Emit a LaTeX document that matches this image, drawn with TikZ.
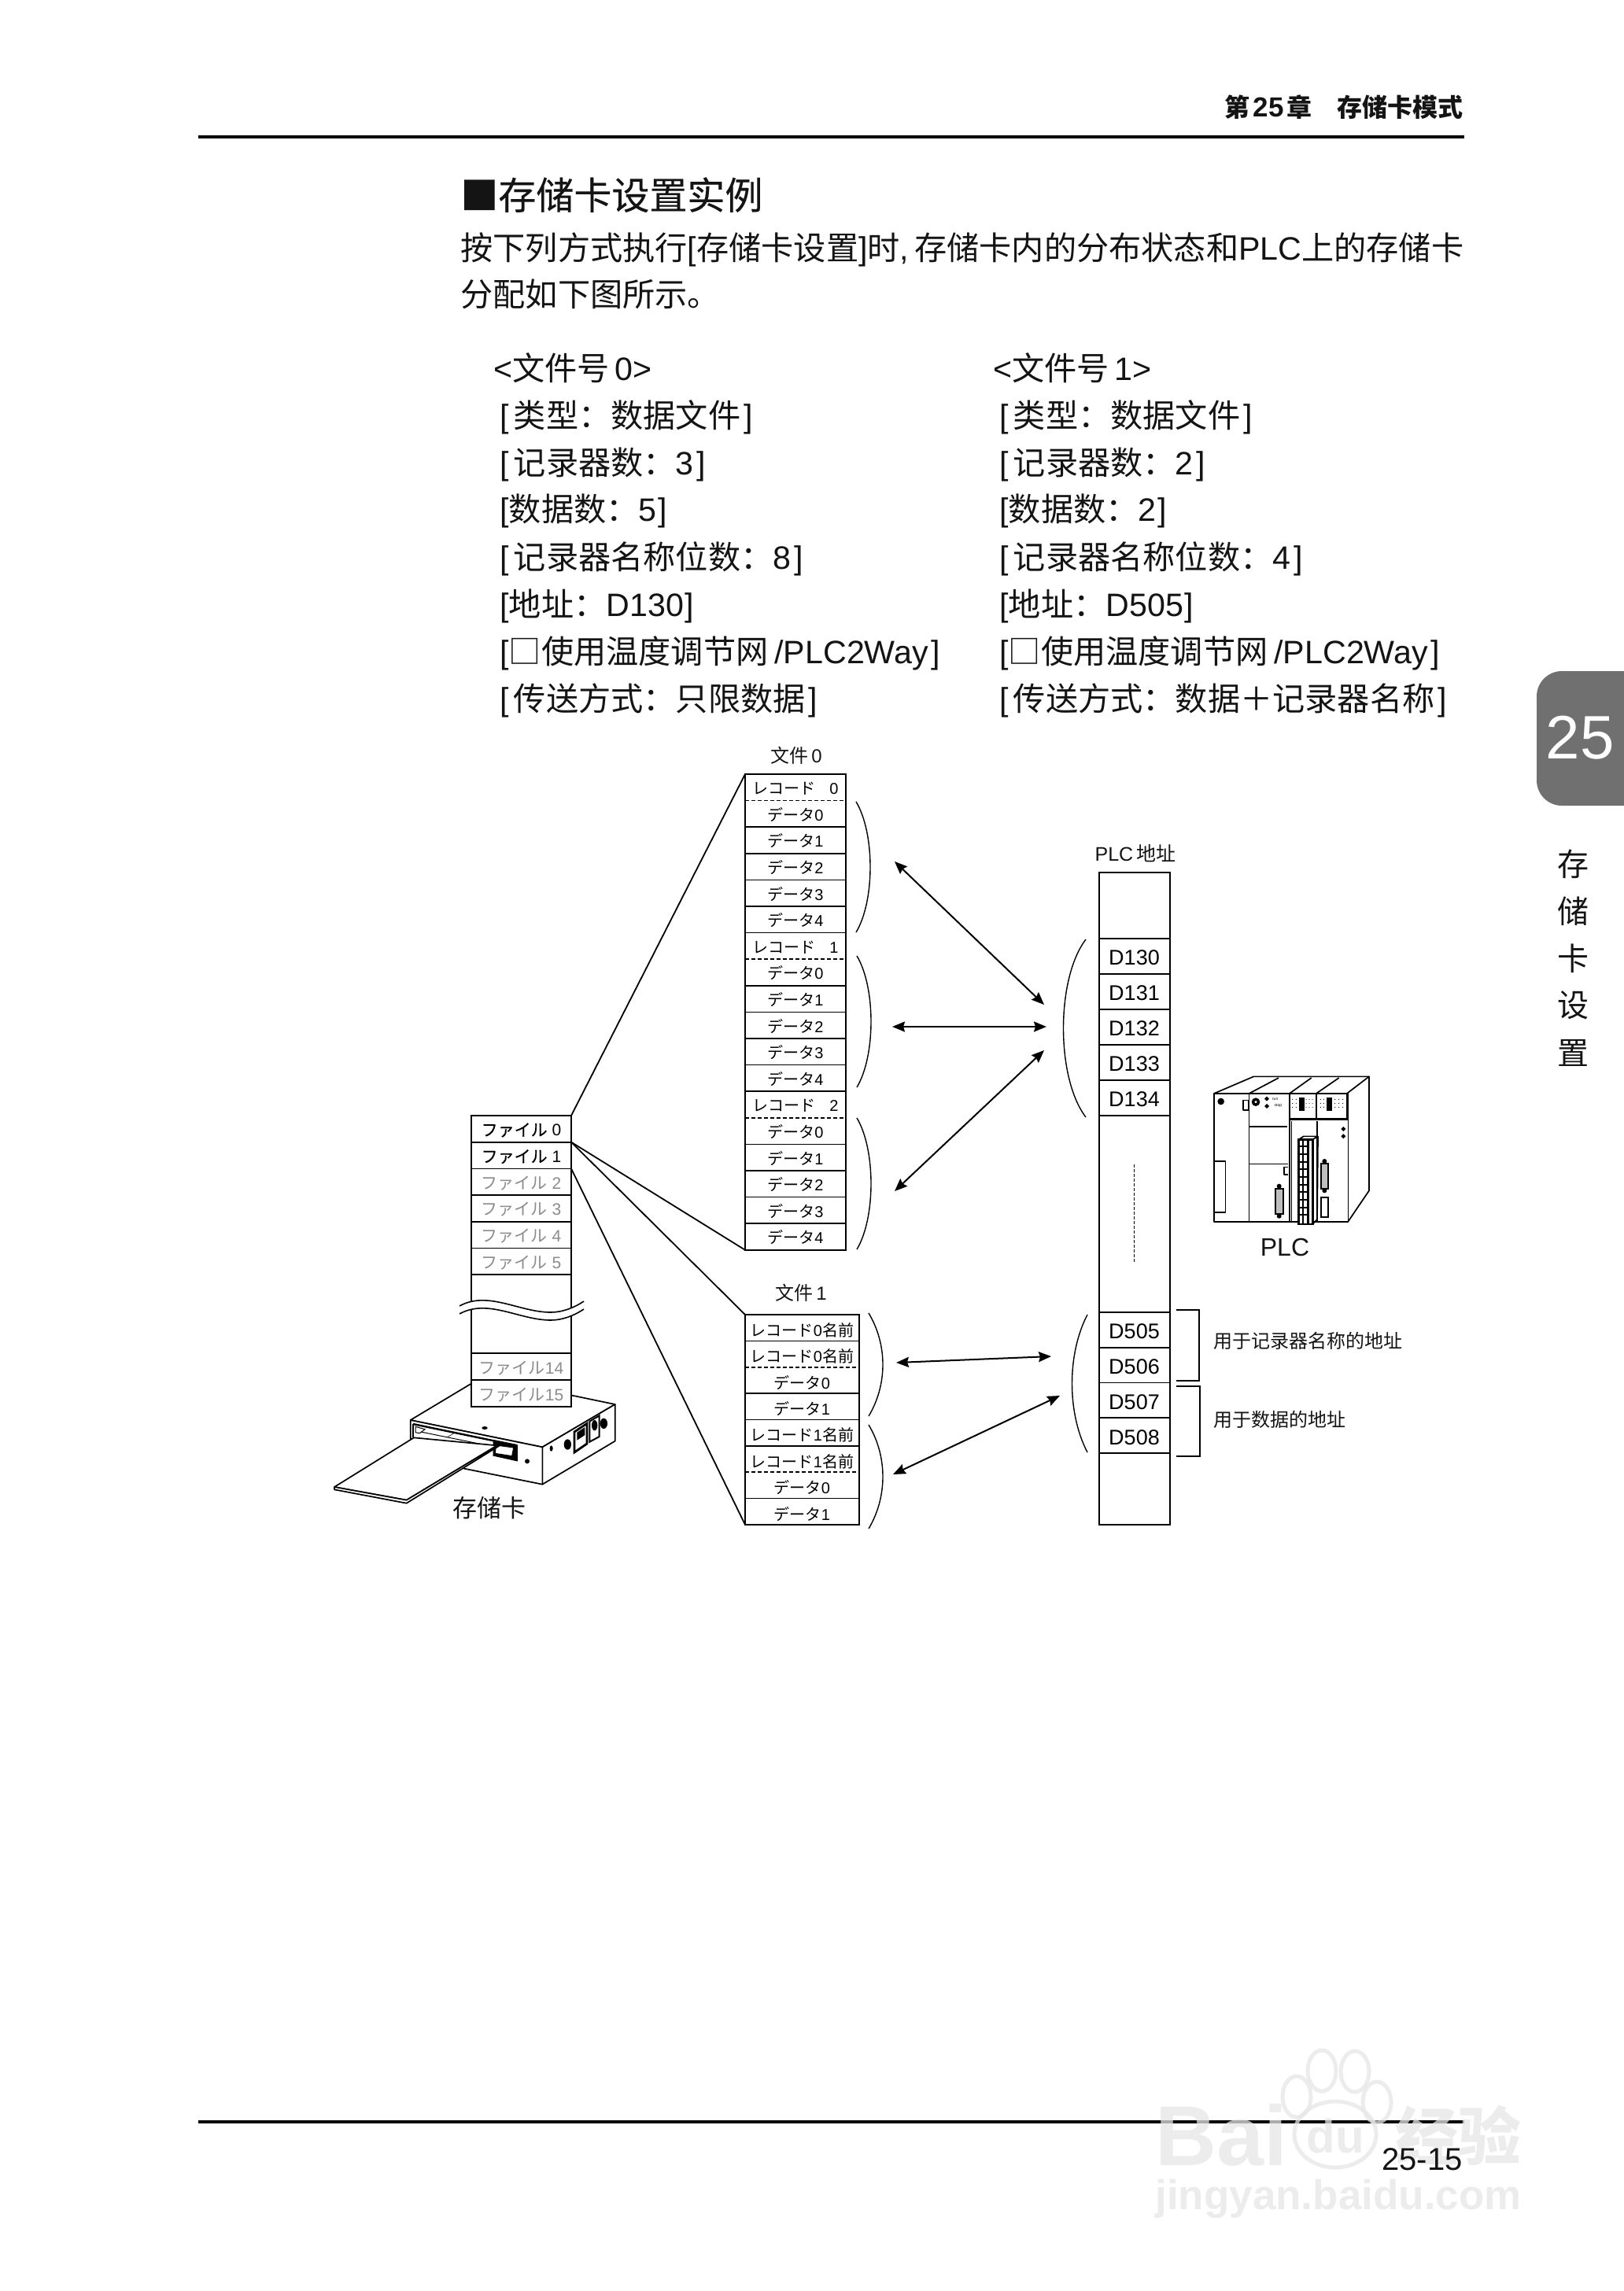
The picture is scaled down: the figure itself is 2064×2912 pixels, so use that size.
\documentclass[tikz,border=0pt]{standalone}
\usepackage{fontspec}
\setmainfont{Liberation Sans}
\newfontfamily\cjk{Noto Sans CJK SC}
\newfontfamily\cjkmid[FakeBold=0.3]{Noto Sans CJK SC}
\usetikzlibrary{arrows.meta,positioning,shapes.geometric}
\definecolor{pageink}{RGB}{20,20,20}
\definecolor{filegray}{RGB}{140,140,140}
\definecolor{tabgray}{RGB}{112,112,112}
\definecolor{markgray}{RGB}{230,230,230}
\newcommand{\cj}[1]{{\cjk #1}}
\newcommand{\fs}[1]{\fontsize{#1pt}{#1pt}\selectfont}
\tikzstyle{bodytext} = [font=\fs{20.6}, anchor=base west, inner sep=0pt, text=pageink]
\tikzstyle{smalltext} = [font=\fs{12}, inner sep=0pt, text=pageink]
\tikzstyle{blockbox} = [draw, line width=1.3pt, fill=white, anchor=north west, inner sep=0pt, outer sep=0pt]
\tikzstyle{rowbox} = [font=\fs{10}, minimum height=16.8pt, minimum width=64pt, inner sep=0pt, outer sep=0pt, text height=9.8pt, text depth=1pt]
\tikzstyle{namebox} = [font=\fs{10}, minimum height=16.7pt, minimum width=72.5pt, inner sep=0pt, outer sep=0pt, text height=11.7pt, text depth=1pt]
\tikzstyle{filerow} = [font=\fs{10.5}, minimum height=16.85pt, minimum width=63.5pt, inner sep=0pt, outer sep=0pt, text height=10pt, text depth=1pt]
\tikzstyle{plcrow} = [font=\fs{13.5}, minimum height=22.5pt, minimum width=44pt, inner sep=0pt, outer sep=0pt, text height=11.4pt, text depth=0pt]
\tikzstyle{rowline} = [line width=0.8pt]
\tikzstyle{dashline} = [line width=0.8pt, dash pattern=on 2.5pt off 1.5pt]
\tikzstyle{arcline} = [line width=0.7pt]
\tikzstyle{fanline} = [line width=0.9pt]
\tikzstyle{dblarrow} = [line width=1pt, {Stealth[length=8pt,width=6.5pt,inset=1pt]}-{Stealth[length=8pt,width=6.5pt,inset=1pt]}]
\tikzstyle{artline} = [line width=0.85pt, line join=round]
\begin{document}
\begin{tikzpicture}[x=0.5pt, y=-0.5pt]
    \useasboundingbox (0,0) rectangle (2064,2912);

    % Page head
    \node[anchor=east, inner sep=0pt, font=\fs{16}\bfseries, text=pageink] (headtext) at (1860,136) {\cj{\bfseries 第}\hspace{2pt}\fs{17.5}25\hspace{2pt}\fs{16}\cj{\bfseries 章}\hspace{16pt}\cj{\bfseries 存储卡模式}};
    \draw[line width=2pt] (252,174) -- (1861,174);
    \draw[line width=2pt] (252,2697) -- (1861,2697);

    % Side tab
    \fill[tabgray, rounded corners=16pt] (1953,853) rectangle (2100,1024);
    \node[text=white, font=\fs{39}, inner sep=0pt] (tabnum) at (2008,938) {25};
    \foreach \c/\y [count=\i] in {存/1098,储/1158,卡/1218,设/1278,置/1338}
        \node[font=\fs{20}\cjk, inner sep=0pt, text=pageink] (side\i) at (1999,\y) {\c};

    % Heading and intro
    \node[anchor=base west, inner sep=0pt, font=\fs{24}\cjkmid, text=pageink] (headline) at (585,266) {■存储卡设置实例};
    \node[bodytext] (introa) at (585,330) {\cj{按下列方式执行}[\cj{存储卡设置}]\cj{时},\,\cj{存储卡内的分布状态和}PLC\cj{上的存储卡}};
    \node[bodytext] (introb) at (585,389) {\cj{分配如下图所示。}};

    % Settings, file 0
    \node[bodytext] (sa0) at (627,483) {<\cj{文件号}\,0>};
    \node[bodytext] (sa1) at (635,543) {[\hspace{3pt}\cj{类型：数据文件}\hspace{2pt}]};
    \node[bodytext] (sa2) at (635,603) {[\hspace{3pt}\cj{记录器数：}3\hspace{2pt}]};
    \node[bodytext] (sa3) at (635,662) {[\cj{数据数：}5\hspace{1pt}]};
    \node[bodytext] (sa4) at (635,723) {[\hspace{3pt}\cj{记录器名称位数：}8\hspace{2pt}]};
    \node[bodytext] (sa5) at (635,783) {[\cj{地址：}D130\hspace{1pt}]};
    \node[bodytext] (sa6) at (635,843) {[\cj{□使用温度调节网}\hspace{4pt}/PLC2Way\hspace{2pt}]};
    \node[bodytext] (sa7) at (635,903) {[\hspace{3pt}\cj{传送方式：只限数据}\hspace{2pt}]};
    % Settings, file 1
    \node[bodytext] (sb0) at (1262,483) {<\cj{文件号}\,1>};
    \node[bodytext] (sb1) at (1270,543) {[\hspace{3pt}\cj{类型：数据文件}\hspace{2pt}]};
    \node[bodytext] (sb2) at (1270,603) {[\hspace{3pt}\cj{记录器数：}2\hspace{2pt}]};
    \node[bodytext] (sb3) at (1270,662) {[\cj{数据数：}2\hspace{1pt}]};
    \node[bodytext] (sb4) at (1270,723) {[\hspace{3pt}\cj{记录器名称位数：}4\hspace{2pt}]};
    \node[bodytext] (sb5) at (1270,783) {[\cj{地址：}D505\hspace{1pt}]};
    \node[bodytext] (sb6) at (1270,843) {[\cj{□使用温度调节网}\hspace{4pt}/PLC2Way\hspace{2pt}]};
    \node[bodytext] (sb7) at (1270,903) {[\hspace{3pt}\cj{传送方式：数据＋记录器名称}\hspace{2pt}]};

    % Memory card unit
    \begin{scope}[shift={(400,1750)}, x=0.16667pt, y=-0.16667pt]
        \draw[artline, fill=white] (365,165) -- (640,0) -- (1145,105) -- (868,268) -- cycle;
        \draw[artline, fill=white] (868,268) -- (1145,105) -- (1145,245) -- (868,410) -- cycle;
        \draw[artline, fill=white] (365,165) -- (868,268) -- (868,410) -- (570,350) -- (365,235) -- cycle;
        \draw[line width=1.2pt] (375,180) -- (770,262) -- (770,318) -- (680,298);
        \draw[line width=1.2pt] (375,180) -- (375,232);
        \draw[line width=0.5pt] (395,208) -- (690,268);
        \fill[black] (680,240) -- (770,258) -- (770,318) -- (680,298) -- cycle;
        \draw[line width=0.5pt, fill=white] (690,272) -- (700,262) -- (758,270) -- (752,302) -- (688,292) -- cycle;
        \draw[line width=0.5pt, fill=white] (384,190) -- (420,200) -- (400,215) -- (384,212) -- cycle;
        \fill (648,195) ellipse (11 and 6);
        \fill (810,322) circle (9);
        \fill (902,273) ellipse (6 and 11);
        \fill (964,258) ellipse (14 and 20);
        \fill (1102,178) ellipse (14 and 20);
        \draw[line width=1.4pt, fill=white] (990,210) -- (1038,178) -- (1038,255) -- (990,288) -- cycle;
        \fill (1000,212) -- (1030,192) -- (1030,222) -- (1000,242) -- cycle;
        \draw[line width=1pt, fill=white] (1048,170) -- (1085,148) -- (1085,228) -- (1048,248) -- cycle;
        \fill (1067,185) ellipse (11 and 20);
        % Card
        \draw[artline, fill=white] (75,420) -- (378,232) -- (695,262) -- (350,470) -- cycle;
        \draw[artline, fill=white] (75,420) -- (75,430) -- (350,482) -- (705,262) -- (695,262) -- (350,470) -- cycle;
        \draw[line width=0.3pt] (505,230) -- (540,210);
    \end{scope}

    % File list
    \node[blockbox, minimum width=63.5pt, minimum height=185pt] (filecol) at (599,1418) {};
    \foreach \n in {0,1} {
        \node[filerow, text=black] (fr\n) at (662.5,{1418+33.7*(\n+0.5)}) {{\cjkmid ファイル}\hspace{3pt}\n};
    }
    \foreach \n in {2,3,4,5} {
        \node[filerow, text=filegray] (fr\n) at (662.5,{1418+33.7*(\n+0.5)}) {\cj{ファイル}\hspace{3pt}\n};
    }
    \node[filerow, text=filegray] (fr14) at (662.5,1737) {\cj{ファイル}14};
    \node[filerow, text=filegray] (fr15) at (662.5,1771) {\cj{ファイル}15};
    \foreach \n in {0,1,2,3,4,5,14,15}
        \draw[rowline] (fr\n.south west) -- (fr\n.south east);
    \draw[rowline] (fr14.north west) -- (fr14.north east);
    % Break in the list
    \fill[white] (584,1660) .. controls (620,1640) and (660,1668) .. (700,1668) .. controls (715,1668) and (730,1662) .. (742,1654)
        -- (742,1664) .. controls (730,1672) and (715,1678) .. (700,1678) .. controls (660,1678) and (620,1650) .. (584,1670) -- cycle;
    \draw[line width=0.8pt] (584,1660) .. controls (620,1640) and (660,1668) .. (700,1668) .. controls (715,1668) and (730,1662) .. (742,1654);
    \draw[line width=0.8pt] (584,1670) .. controls (620,1650) and (660,1678) .. (700,1678) .. controls (715,1678) and (730,1672) .. (742,1664);

    \node[smalltext] (cardname) at (622,1917) {\fs{15.5}\cjk 存储卡};

    % File 0 block
    \node[smalltext] (titlezero) at (1012,960) {\cj{文件}\,0};
    \node[blockbox, minimum width=64pt, minimum height=302.4pt] (dzero) at (947,984) {};
    \foreach \r in {0,1,2} {
        \node[rowbox] (rec\r) at (1011,{984+201.6*\r+16.8}) {\cj{レコード}\hspace{9pt}\r};
        \draw[dashline] (rec\r.south west) -- (rec\r.south east);
        \foreach \d in {0,1,2,3,4} {
            \node[rowbox] (dat\r\d) at (1011,{984+201.6*\r+33.6*(\d+1)+16.8}) {\cj{データ}\d};
            \draw[rowline] (dat\r\d.south west) -- (dat\r\d.south east);
        }
    }

    % File 1 block
    \node[smalltext] (titleone) at (1018,1643) {\cj{文件}\,1};
    \node[blockbox, minimum width=72.5pt, minimum height=133.5pt] (done) at (947,1671) {};
    \foreach \r in {0,1} {
        \node[namebox] (na\r) at (1019.5,{1671+133.5*\r+16.7}) {\cj{レコード}\r\cj{名前}};
        \node[namebox] (nb\r) at (1019.5,{1671+133.5*\r+50}) {\cj{レコード}\r\cj{名前}};
        \node[namebox] (va\r) at (1019.5,{1671+133.5*\r+83.4}) {\cj{データ}0};
        \node[namebox] (vb\r) at (1019.5,{1671+133.5*\r+116.8}) {\cj{データ}1};
        \draw[rowline] (na\r.south west) -- (na\r.south east);
        \draw[dashline] (nb\r.south west) -- (nb\r.south east);
        \draw[rowline] (va\r.south west) -- (va\r.south east);
        \draw[rowline] (vb\r.south west) -- (vb\r.south east);
    }

    % Fan from list to blocks
    \draw[fanline] (fr0.north east) -- (dzero.north west);
    \draw[fanline] (fr0.south east) -- (dzero.south west);
    \draw[fanline] (fr0.south east) -- (done.north west);
    \draw[fanline] (fr1.south east) -- (done.south west);

    % Arcs
    \foreach \xa/\ya/\yb/\b in {1088/1019/1185/24, 1089/1215/1382/24, 1089/1421/1588/24, 1104/1669/1800/24, 1104/1811/1943/24}
        \draw[arcline] (\xa,\ya) .. controls (\xa+\b,\ya+40) and (\xa+\b,\yb-40) .. (\xa,\yb);
    \foreach \xa/\ya/\yb/\b in {1380/1194/1420/-38, 1382/1671/1846/-26}
        \draw[arcline] (\xa,\ya) .. controls (\xa+\b,\ya+50) and (\xa+\b,\yb-50) .. (\xa,\yb);

    % PLC addresses
    \node[smalltext, font=\fs{12.5}] (plctitle) at (1443,1085) {PLC\,\cj{地址}};
    \node[blockbox, minimum width=45pt, minimum height=414.5pt] (plccol) at (1397,1109) {};
    \foreach \n [count=\i from 0] in {130,131,132,133,134} {
        \node[plcrow] (d\n) at (1441.5,{1193+45*(\i+0.5)}) {D\n};
        \draw[rowline] (d\n.north west) -- (d\n.north east);
        \draw[rowline] (d\n.south west) -- (d\n.south east);
    }
    \foreach \n [count=\i from 0] in {505,506,507,508} {
        \node[plcrow] (d\n) at (1441.5,{1668+44.75*(\i+0.5)}) {D\n};
        \draw[rowline] (d\n.north west) -- (d\n.north east);
        \draw[rowline] (d\n.south west) -- (d\n.south east);
    }
    \draw[line width=0.4pt, dash pattern=on 2pt off 1pt] (d134.south |- 0,1480) -- (d134.south |- 0,1604);

    % Address brackets
    \draw[line width=0.8pt] (1495,1665) -- (1524,1665) -- (1524,1755) -- (1495,1755);
    \draw[line width=0.8pt] (1495,1762) -- (1525,1762) -- (1525,1851) -- (1495,1851);
    \node[smalltext, anchor=west] (notename) at (1542,1704) {\cj{用于记录器名称的地址}};
    \node[smalltext, anchor=west] (notedata) at (1542,1804) {\cj{用于数据的地址}};

    % Arrows between blocks and addresses
    \coordinate (la) at (1137,1095);
    \coordinate (ra) at (1327,1277);
    \coordinate (lb) at (1134,1305);
    \coordinate (rb) at (1330,1305);
    \coordinate (lc) at (1137,1514);
    \coordinate (rc) at (1327,1335);
    \coordinate (ld) at (1139,1732);
    \coordinate (rd) at (1336,1724);
    \coordinate (le) at (1135,1874);
    \coordinate (re) at (1347,1774);
    \draw[dblarrow] (la) -- (ra);
    \draw[dblarrow] (lb) -- (rb);
    \draw[dblarrow] (lc) -- (rc);
    \draw[dblarrow] (ld) -- (rd);
    \draw[dblarrow] (le) -- (re);

    % PLC unit
    \begin{scope}[shift={(1520,1350)}, x=0.16667pt, y=-0.16667pt]
        \draw[artline] (68,120) -- (220,55) -- (660,55) -- (660,490) -- (580,608);
        \draw[artline] (575,120) -- (660,55);
        \draw[artline] (202,120) -- (315,60);
        \draw[artline] (356,120) -- (440,60);
        \draw[artline] (458,120) -- (545,60);
        \draw[artline] (68,120) rectangle (580,608);
        \draw[artline] (202,120) -- (202,608);
        \draw[artline] (356,120) -- (356,608);
        \draw[artline] (458,120) -- (458,215);
        \draw[artline] (575,120) -- (575,215);
        \draw[line width=1.3pt] (356,218) -- (578,218);
        \draw[artline] (364,225) -- (364,608);
        \draw[artline] (462,225) -- (462,608);
        % Power module
        \fill (95,150) circle (13);
        \draw[artline] (180,145) rectangle (200,183);
        \draw[artline] (70,377) rectangle (112,573);
        % CPU module
        \fill (228,152) circle (16);
        \fill[white] (228,152) circle (5);
        \fill (270,131) -- (279,140) -- (270,149) -- (261,140) -- cycle;
        \fill (270,159) -- (279,168) -- (270,177) -- (261,168) -- cycle;
        \node[font=\fs{2.5}, inner sep=0pt] (runmark) at (302,141) {run};
        \node[font=\fs{2.5}, inner sep=0pt] (stopmark) at (313,167) {stop};
        \draw[artline] (202,245) -- (348,245);
        \draw[artline] (202,388) -- (350,388);
        \draw[artline] (335,400) -- (350,400) (335,400) -- (335,428) -- (350,428);
        \fill (317,473) circle (9);
        \fill (317,587) circle (9);
        \draw[line width=1.1pt, fill=black!25] (303,482) rectangle (332,578);
        % Unit tops
        \fill (393,135) rectangle (413,185);
        \fill (497,135) rectangle (520,185);
        \foreach \y in {142,157,172} {
            \foreach \x in {368,382,420,432,444,475,487,530,545,560}
                \fill (\x,\y) circle (1.8);
        }
        % Terminal block
        \draw[artline] (445,295) -- (465,283) -- (410,283) -- (392,295);
        \draw[artline] (465,283) -- (462,600) -- (445,618);
        \draw[line width=1.3pt, fill=white] (392,295) rectangle (445,618);
        \draw[line width=1.3pt] (408,295) -- (408,618) (428,295) -- (428,618);
        \foreach \y in {322,351,380,409,438,467,496,525,554,583}
            \draw[line width=1.1pt] (392,\y) -- (430,\y);
        % Right module
        \fill (562,246) -- (571,255) -- (562,264) -- (553,255) -- cycle;
        \fill (562,274) -- (571,283) -- (562,292) -- (553,283) -- cycle;
        \fill (490,378) circle (9);
        \fill (490,490) circle (9);
        \draw[line width=1.1pt, fill=black!25] (477,388) rectangle (505,482);
        \draw[line width=1.1pt] (478,515) rectangle (503,592);
    \end{scope}
    \node[inner sep=0pt, font=\fs{16}, text=pageink] (plcname) at (1633,1585) {PLC};

    % Watermark
    \begin{scope}[opacity=0.75]
        \node[text=markgray, inner sep=0pt, font=\fs{54}\bfseries, anchor=base west] (markbai) at (1468,2752) {Bai};
        \foreach \x/\y/\rx/\ry [count=\i] in {1680/2632/18/26, 1722/2633/18/26, 1648/2665/18/26, 1750/2672/18/26}
            \draw[markgray, line width=2.5pt] (\x,\y) ellipse (\rx pt/2 and \ry pt/2);
        \draw[markgray, line width=2.5pt] (1697,2713) ellipse (52 and 42);
        \node[text=markgray, inner sep=0pt, font=\fs{30}\bfseries, anchor=base] (markdu) at (1697,2736) {du};
        \node[text=markgray, inner sep=0pt, font=\fs{40}\bfseries, anchor=base west] (markjy) at (1773,2745) {\cj{\bfseries 经验}};
        \node[text=markgray, inner sep=0pt, font=\fs{26.5}\bfseries, anchor=base west] (markurl) at (1468,2808) {jingyan.baidu.com};
    \end{scope}
    \node[anchor=east, inner sep=0pt, font=\fs{20}, text=pageink] (pagenum) at (1859,2745) {25-15};
\end{tikzpicture}
\end{document}
